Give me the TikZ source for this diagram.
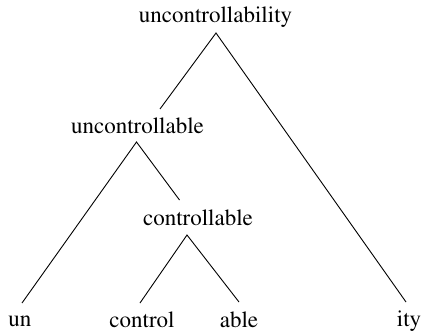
\documentclass[tikz,border=0pt]{standalone}
\usepackage[T1]{fontenc}
\usepackage{times}
\begin{document}
\begin{tikzpicture}[x=1pt,y=-1pt,
  word/.style={anchor=base,inner sep=0pt,font=\rmfamily\fontsize{23}{27}\selectfont},
  branch/.style={draw=black,line width=0.9pt}]
\useasboundingbox (0,0) rectangle (423,332);
% words of the tree
\node[word] (root) at (215.5,23) {uncontrollability};
\node[word] (uable) at (137.5,133) {uncontrollable};
\node[word] (cable) at (198,225) {controllable};
\node[word] (un) at (20,326) {un};
\node[word] (control) at (142,327) {control};
\node[word] (able) at (239,327) {able};
\node[word] (ity) at (409,326) {ity};
% branch end points
\coordinate (rootB) at (216,33);
\coordinate (uableT) at (160,109);
\coordinate (uableB) at (136.5,142);
\coordinate (cableT) at (179.5,200);
\coordinate (cableB) at (187,235);
\coordinate (unT) at (22,303);
\coordinate (controlT) at (140,303);
\coordinate (ableT) at (239,302);
\coordinate (ityT) at (406,302);
% branches
\draw[branch] (uableT) -- (rootB) -- (ityT);
\draw[branch] (unT) -- (uableB) -- (cableT);
\draw[branch] (controlT) -- (cableB) -- (ableT);
\end{tikzpicture}
\end{document}
